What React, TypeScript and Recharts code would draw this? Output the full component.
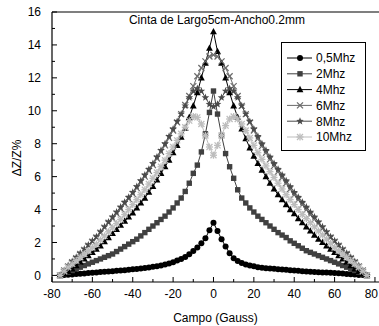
import { LineChart, Line, XAxis, YAxis, ReferenceLine, Legend } from 'recharts'

// campo (Gauss)
const FIELD = [
  -76, -74, -72, -70, -68, -66, -64, -62, -60, -58, -56, -54, -52, -50, -48, -46, -44, -42, -40,
  -38, -36, -34, -32, -30, -28, -26, -24, -22, -20, -18, -16, -14, -12, -10, -8, -6, -4, -2, 0, 2,
  4, 6, 8, 10, 12, 14, 16, 18, 20, 22, 24, 26, 28, 30, 32, 34, 36, 38, 40, 42, 44, 46, 48, 50, 52,
  54, 56, 58, 60, 62, 64, 66, 68, 70, 72, 74, 76,
]

const S05 = [
  0, 0.02, 0.04, 0.06, 0.08, 0.1, 0.12, 0.14, 0.16, 0.18, 0.2, 0.22, 0.24, 0.26, 0.28, 0.3, 0.32,
  0.34, 0.37, 0.39, 0.42, 0.45, 0.48, 0.52, 0.56, 0.6, 0.66, 0.72, 0.8, 0.9, 1.0, 1.12, 1.28, 1.48,
  1.7, 1.95, 2.25, 2.75, 3.2, 2.7, 2.2, 1.75, 1.35, 1.05, 0.88, 0.76, 0.66, 0.6, 0.55, 0.5, 0.47,
  0.44, 0.42, 0.4, 0.38, 0.36, 0.34, 0.32, 0.3, 0.28, 0.26, 0.24, 0.22, 0.2, 0.19, 0.18, 0.17, 0.16,
  0.15, 0.13, 0.11, 0.09, 0.07, 0.05, 0.03, 0.02, 0,
]

const S2 = [
  0, 0.1, 0.2, 0.3, 0.4, 0.5, 0.6, 0.7, 0.8, 0.9, 1.0, 1.1, 1.2, 1.3, 1.45, 1.6, 1.75, 1.9, 2.05,
  2.2, 2.4, 2.6, 2.8, 3.0, 3.2, 3.4, 3.6, 3.85, 4.1, 4.4, 4.7, 5.1, 5.6, 6.2, 6.7, 7.5, 8.6, 9.9,
  11.2, 9.8, 8.5, 7.4, 6.6, 5.9, 5.2, 4.7, 4.4, 4.1, 3.85, 3.6, 3.4, 3.2, 3.0, 2.8, 2.6, 2.45, 2.3,
  2.1, 1.95, 1.8, 1.65, 1.5, 1.4, 1.3, 1.2, 1.1, 1.0, 0.9, 0.8, 0.7, 0.6, 0.5, 0.4, 0.3, 0.2, 0.1, 0,
]

const S4 = [
  0, 0.1, 0.25, 0.4, 0.6, 0.8, 1.0, 1.2, 1.4, 1.6, 1.8, 2.05, 2.3, 2.55, 2.8, 3.05, 3.3, 3.55, 3.8,
  4.1, 4.4, 4.7, 5.05, 5.4, 5.8, 6.2, 6.6, 7.0, 7.45, 7.9, 8.4, 8.95, 9.6, 10.3, 11.1, 12.0, 12.9,
  13.8, 14.8, 13.6, 12.9, 12.0, 11.1, 10.3, 9.6, 8.9, 8.3, 7.75, 7.25, 6.8, 6.4, 6.0, 5.6, 5.25,
  4.9, 4.6, 4.3, 4.0, 3.75, 3.45, 3.2, 2.95, 2.7, 2.45, 2.2, 2.0, 1.8, 1.6, 1.4, 1.2, 1.0, 0.8, 0.6,
  0.4, 0.25, 0.1, 0,
]

const S6 = [
  0, 0.3, 0.55, 0.8, 1.05, 1.3, 1.55, 1.8, 2.05, 2.3, 2.6, 2.9, 3.2, 3.45, 3.75, 4.05, 4.35, 4.65,
  4.95, 5.3, 5.65, 6.0, 6.35, 6.7, 7.1, 7.5, 7.9, 8.35, 8.8, 9.3, 9.8, 10.35, 10.9, 11.5, 12.1, 12.6,
  13.0, 13.3, 13.4, 13.3, 13.0, 12.6, 12.1, 11.5, 10.9, 10.3, 9.8, 9.3, 8.8, 8.3, 7.85, 7.45, 7.05,
  6.65, 6.3, 5.95, 5.6, 5.25, 4.9, 4.6, 4.3, 4.0, 3.7, 3.4, 3.15, 2.85, 2.55, 2.3, 2.05, 1.8, 1.55,
  1.3, 1.05, 0.8, 0.55, 0.3, 0,
]

const S8 = [
  0, 0.3, 0.6, 0.85, 1.1, 1.35, 1.6, 1.85, 2.1, 2.35, 2.65, 2.95, 3.25, 3.55, 3.85, 4.15, 4.45, 4.75,
  5.05, 5.4, 5.75, 6.1, 6.45, 6.8, 7.2, 7.6, 8.0, 8.45, 8.9, 9.35, 9.8, 10.3, 10.8, 11.2, 11.35,
  11.2, 10.8, 10.4, 10.25, 10.4, 10.8, 11.2, 11.35, 11.2, 10.8, 10.3, 9.8, 9.35, 8.9, 8.45, 8.0, 7.6,
  7.2, 6.8, 6.45, 6.1, 5.75, 5.4, 5.05, 4.75, 4.45, 4.15, 3.85, 3.55, 3.25, 2.95, 2.65, 2.35, 2.1,
  1.85, 1.6, 1.35, 1.1, 0.85, 0.6, 0.3, 0,
]

const S10 = [
  0, 0.25, 0.5, 0.7, 0.9, 1.1, 1.3, 1.5, 1.7, 1.9, 2.15, 2.4, 2.65, 2.9, 3.15, 3.4, 3.7, 4.0, 4.3,
  4.6, 4.9, 5.2, 5.55, 5.9, 6.25, 6.6, 7.0, 7.4, 7.8, 8.2, 8.6, 9.0, 9.4, 9.65, 9.6, 9.2, 8.5, 7.8,
  7.3, 7.9, 8.5, 9.1, 9.5, 9.65, 9.5, 9.2, 8.8, 8.35, 7.9, 7.45, 7.05, 6.65, 6.3, 5.95, 5.6, 5.25,
  4.9, 4.6, 4.3, 4.0, 3.7, 3.45, 3.2, 2.95, 2.7, 2.45, 2.2, 1.95, 1.7, 1.5, 1.3, 1.1, 0.9, 0.7, 0.5,
  0.25, 0,
]

const X_TICKS = [-80, -70, -60, -50, -40, -30, -20, -10, 0, 10, 20, 30, 40, 50, 60, 70, 80]
const Y_TICKS = [0, 1, 2, 3, 4, 5, 6, 7, 8, 9, 10, 11, 12, 13, 14, 15, 16]

type Shape = 'circle' | 'square' | 'triangle' | 'cross' | 'star' | 'asterisk'

const SERIES: { key: string; name: string; values: number[]; color: string; shape: Shape }[] = [
  { key: 's05', name: '0,5Mhz', values: S05, color: '#000000', shape: 'circle' },
  { key: 's2', name: '2Mhz', values: S2, color: '#404040', shape: 'square' },
  { key: 's4', name: '4Mhz', values: S4, color: '#000000', shape: 'triangle' },
  { key: 's6', name: '6Mhz', values: S6, color: '#6a6a6a', shape: 'cross' },
  { key: 's8', name: '8Mhz', values: S8, color: '#4a4a4a', shape: 'star' },
  { key: 's10', name: '10Mhz', values: S10, color: '#bdbdbd', shape: 'asterisk' },
]

const data = FIELD.map((field, i) => {
  const row: Record<string, number> = { field }
  SERIES.forEach(s => {
    row[s.key] = s.values[i]
  })
  return row
})

const FONT = '"Liberation Sans", Arial, sans-serif'

const Marker = ({ cx, cy, shape, color }: { cx: number; cy: number; shape: Shape; color: string }) => {
  if (cx == null || cy == null) return null
  switch (shape) {
    case 'circle':
      return <circle cx={cx} cy={cy} r={3} fill={color} />
    case 'square':
      return <rect x={cx - 2.7} y={cy - 2.7} width={5.4} height={5.4} fill={color} />
    case 'triangle':
      return (
        <polygon
          points={`${cx},${cy - 3.8} ${cx - 3.4},${cy + 2.6} ${cx + 3.4},${cy + 2.6}`}
          fill={color}
        />
      )
    case 'cross':
      return (
        <g stroke={color} strokeWidth={1.2}>
          <line x1={cx - 3} y1={cy - 3} x2={cx + 3} y2={cy + 3} />
          <line x1={cx - 3} y1={cy + 3} x2={cx + 3} y2={cy - 3} />
        </g>
      )
    case 'star': {
      const pts: string[] = []
      for (let k = 0; k < 10; k++) {
        const r = k % 2 === 0 ? 4 : 1.7
        const a = -Math.PI / 2 + (k * Math.PI) / 5
        pts.push(`${cx + r * Math.cos(a)},${cy + r * Math.sin(a)}`)
      }
      return <polygon points={pts.join(' ')} fill={color} />
    }
    case 'asterisk':
      return (
        <g stroke={color} strokeWidth={1.3}>
          <line x1={cx - 3} y1={cy - 3} x2={cx + 3} y2={cy + 3} />
          <line x1={cx - 3} y1={cy + 3} x2={cx + 3} y2={cy - 3} />
          <line x1={cx} y1={cy - 3.5} x2={cx} y2={cy + 3.5} />
          <line x1={cx - 3.5} y1={cy} x2={cx + 3.5} y2={cy} />
        </g>
      )
  }
  return null
}

const XTick = ({ x, y, payload }: any) => {
  const major = Math.abs(payload.value) % 20 === 0
  // last label sits at the right edge of the picture, keep it inside
  const last = payload.value === 80
  return (
    <g>
      <line x1={x} x2={x} y1={y} y2={y - (major ? 5 : 3)} stroke="#000" />
      {major && (
        <text
          x={last ? 378 : x}
          y={y + 15.5}
          textAnchor={last ? 'end' : 'middle'}
          fontSize={12}
          fill="#000"
          fontFamily={FONT}
        >
          {payload.value}
        </text>
      )}
    </g>
  )
}

const YTick = ({ x, y, payload }: any) => {
  const major = payload.value % 2 === 0
  return (
    <g>
      <line x1={x} x2={x + (major ? 5 : 3)} y1={y} y2={y} stroke="#000" />
      {major && (
        <text x={x - 11} y={y + 4.3} textAnchor="end" fontSize={12} fill="#000" fontFamily={FONT}>
          {payload.value}
        </text>
      )}
    </g>
  )
}

const YLabel = () => (
  <text
    x={21}
    y={158}
    transform="rotate(-90, 21, 158)"
    textAnchor="middle"
    fontSize={12}
    fill="#000"
    fontFamily={FONT}
  >
    ΔZ/Z%
  </text>
)

const LegendBox = () => {
  const rowH = 15.8
  return (
    <svg width={85} height={109} style={{ display: 'block' }}>
      <rect x={0.5} y={0.5} width={84} height={108} fill="#fff" stroke="#000" />
      {SERIES.map((s, i) => {
        const cy = 16 + i * rowH
        return (
          <g key={s.key}>
            <line x1={6} x2={31} y1={cy} y2={cy} stroke={s.color} strokeWidth={1} />
            <Marker cx={19} cy={cy} shape={s.shape} color={s.color} />
            <text x={35} y={cy + 4.3} fontSize={12} fill="#000" fontFamily={FONT}>
              {s.name}
            </text>
          </g>
        )
      })}
    </svg>
  )
}

export default function App() {
  return (
    <div
      style={{
        position: 'absolute',
        left: 0,
        top: 0,
        width: 379,
        height: 326,
        background: '#fff',
        fontFamily: FONT,
      }}
    >
      <div
        style={{
          position: 'absolute',
          left: 67,
          width: 300,
          top: 13,
          textAlign: 'center',
          fontSize: 12,
          lineHeight: '14px',
          zIndex: 2,
        }}
      >
        Cinta de Largo5cm-Ancho0.2mm
      </div>
      <LineChart width={379} height={326} data={data} margin={{ top: 12, right: 0, bottom: 0, left: 0 }}>
        <XAxis
          dataKey="field"
          type="number"
          domain={[-80, 82]}
          ticks={X_TICKS}
          interval={0}
          allowDataOverflow
          tickSize={0}
          tickMargin={0}
          tick={XTick}
          height={44}
          axisLine={{ stroke: '#000', strokeWidth: 1.2 }}
          label={{
            value: 'Campo (Gauss)',
            position: 'insideBottom',
            offset: 4,
            fontSize: 12,
            fill: '#000',
          }}
        />
        <YAxis
          type="number"
          domain={[-0.4, 16]}
          ticks={Y_TICKS}
          interval={0}
          allowDataOverflow
          tickSize={0}
          tickMargin={0}
          tick={YTick}
          width={52}
          axisLine={{ stroke: '#000', strokeWidth: 1.2 }}
          label={{ content: () => <YLabel /> }}
        />
        <ReferenceLine y={16} stroke="#000" strokeWidth={1.2} ifOverflow="visible" />
        {SERIES.map(s => (
          <Line
            key={s.key}
            dataKey={s.key}
            name={s.name}
            type="linear"
            stroke={s.color}
            strokeWidth={1}
            isAnimationActive={false}
            dot={(p: any) => (
              <g key={`${s.key}-${p.index}`}>
                <Marker cx={p.cx} cy={p.cy} shape={s.shape} color={s.color} />
              </g>
            )}
            activeDot={false}
          />
        ))}
        <Legend
          layout="vertical"
          align="center"
          verticalAlign="middle"
          content={() => <LegendBox />}
          wrapperStyle={{ position: 'absolute', top: 42, left: 281, width: 85, height: 109 }}
        />
      </LineChart>
    </div>
  )
}
